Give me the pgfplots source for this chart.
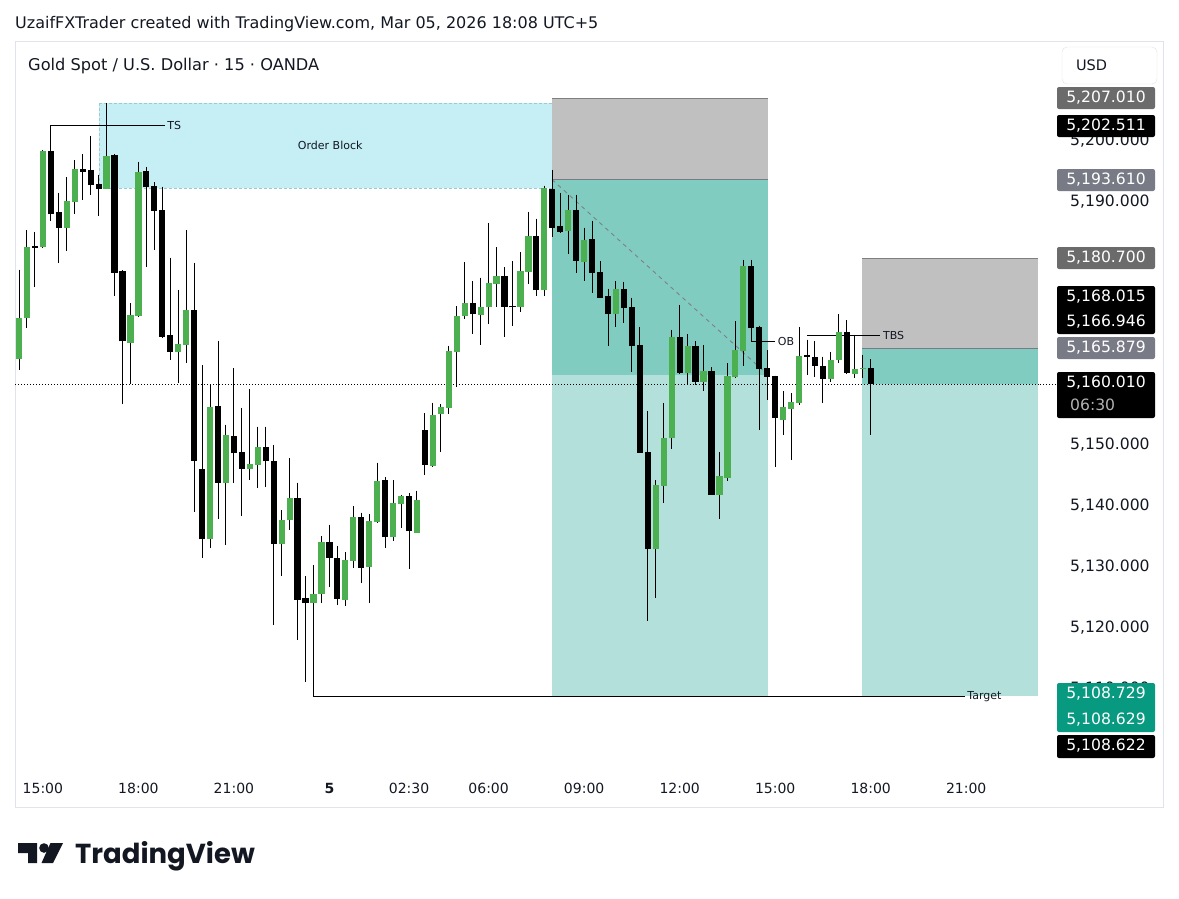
\documentclass[border=0pt]{standalone}
\usepackage{fontspec}
\setmainfont{DejaVu Sans}
\newfontfamily\poppins{Poppins}
\usepackage{pgfplots}
\usepackage{pgfplotstable}
\pgfplotsset{compat=1.18}
\definecolor{tvgreen}{HTML}{4CAF50}
\definecolor{obfill}{HTML}{C5EFF5}
\definecolor{obline}{HTML}{9CC9D2}
\definecolor{stopgrey}{HTML}{C0C0C0}
\definecolor{darkteal}{HTML}{81CCC1}
\definecolor{lightteal}{HTML}{B3E0DB}
\definecolor{tvteal}{HTML}{089981}
\definecolor{tvgray}{HTML}{787B86}
\definecolor{labgray}{HTML}{6B6B6B}
\definecolor{framec}{HTML}{E0E3EB}
\definecolor{txt}{HTML}{131722}

\pgfplotstableread{
i o h l c
0 5164.2 5178.8 5162.3 5170.8
1 5170.8 5185.3 5169.2 5182.5
3 5182.5 5198.4 5182.4 5198.3
6 5185.7 5194.0 5181.8 5190.1
7 5190.0 5196.8 5187.9 5195.3
11 5192.1 5206.2 5192.0 5197.5
14 5166.8 5173.3 5160.0 5171.4
15 5171.2 5196.5 5171.1 5194.9
20 5165.3 5175.5 5160.2 5166.6
21 5166.4 5185.3 5163.4 5172.2
24 5134.5 5159.9 5133.0 5156.3
26 5143.8 5153.3 5133.6 5151.6
29 5146.1 5159.2 5144.2 5146.9
30 5146.7 5153.0 5143.0 5149.7
33 5133.8 5139.3 5128.4 5137.7
34 5137.7 5147.8 5136.0 5141.3
37 5124.0 5130.2 5108.6 5125.5
38 5125.5 5135.0 5124.0 5134.0
41 5124.5 5132.4 5123.6 5131.1
42 5130.9 5139.9 5129.8 5138.1
44 5130.0 5138.6 5124.0 5137.5
45 5137.4 5147.1 5137.2 5144.1
47 5134.8 5144.2 5134.3 5140.4
48 5140.3 5141.8 5136.4 5141.6
50 5135.6 5142.5 5135.5 5141.0
52 5146.6 5156.9 5146.4 5154.9
53 5155.1 5156.7 5148.9 5156.3
54 5156.0 5166.3 5155.1 5165.4
55 5165.3 5172.8 5159.5 5171.2
56 5171.2 5180.1 5170.7 5173.4
58 5171.4 5177.5 5166.5 5172.7
59 5172.6 5186.5 5169.9 5176.6
60 5176.5 5182.5 5172.7 5177.8
63 5172.7 5181.7 5171.9 5178.6
64 5178.5 5188.3 5176.5 5184.3
66 5175.4 5192.6 5174.4 5192.2
69 5185.2 5191.1 5181.3 5188.6
71 5180.1 5185.7 5177.0 5183.7
75 5171.6 5176.9 5169.4 5175.6
80 5132.9 5144.2 5124.8 5143.4
81 5143.3 5156.9 5140.4 5151.1
82 5151.1 5168.9 5149.3 5167.7
84 5161.9 5168.2 5160.0 5166.3
86 5160.3 5166.4 5158.9 5162.2
88 5141.7 5148.8 5137.8 5144.9
89 5144.6 5163.4 5144.0 5161.3
90 5161.1 5170.3 5161.0 5165.6
91 5165.5 5180.4 5162.9 5179.4
96 5154.1 5158.8 5151.6 5156.2
97 5155.9 5158.5 5147.5 5157.0
98 5156.9 5169.4 5156.6 5164.6
102 5160.8 5165.3 5160.4 5164.0
103 5164.0 5171.5 5163.4 5168.5
105 5161.6 5168.1 5161.0 5162.5
106 5162.4 5164.8 5161.0 5162.7
}\greentab

\pgfplotstableread{
i o h l c
2 5182.7 5185.0 5176.0 5182.4
4 5198.3 5202.5 5186.8 5187.9
5 5188.2 5191.4 5179.9 5185.7
8 5195.3 5197.8 5190.3 5194.9
9 5195.2 5200.8 5191.0 5192.7
10 5192.9 5194.4 5187.7 5192.1
12 5197.6 5197.8 5174.5 5178.3
13 5178.6 5178.7 5156.7 5167.0
16 5195.0 5195.7 5179.3 5192.4
17 5192.6 5193.2 5182.0 5188.5
18 5188.6 5192.4 5167.5 5167.8
19 5168.1 5180.8 5164.0 5165.3
22 5172.2 5179.9 5139.0 5147.4
23 5146.1 5163.1 5131.5 5134.5
25 5156.4 5167.1 5137.8 5143.8
27 5151.5 5162.6 5143.8 5148.6
28 5148.8 5156.1 5138.3 5146.1
31 5149.7 5153.0 5143.1 5147.3
32 5147.4 5150.0 5120.4 5133.8
35 5141.3 5143.8 5118.0 5124.5
36 5124.8 5128.4 5111.1 5124.0
39 5134.0 5136.9 5126.6 5131.5
40 5131.5 5133.4 5123.7 5124.7
43 5138.1 5138.9 5127.3 5129.8
46 5144.2 5144.7 5133.1 5134.8
49 5141.6 5142.1 5129.7 5135.8
51 5152.5 5155.2 5145.0 5146.7
57 5173.4 5176.9 5168.2 5171.5
61 5177.8 5179.2 5167.8 5172.7
62 5172.8 5180.2 5169.6 5172.6
65 5184.3 5187.2 5174.5 5175.4
67 5192.1 5195.2 5184.1 5185.7
68 5185.9 5191.4 5184.8 5185.0
70 5188.6 5191.1 5178.3 5180.3
72 5183.8 5186.8 5174.9 5178.3
73 5178.4 5180.2 5174.1 5174.2
74 5174.4 5175.7 5166.3 5171.5
76 5175.6 5176.8 5170.1 5172.5
77 5172.7 5174.2 5162.0 5166.3
78 5166.4 5169.4 5148.6 5148.7
79 5148.8 5155.6 5121.0 5132.9
83 5167.7 5173.0 5161.6 5161.9
85 5166.3 5167.0 5159.9 5160.4
87 5162.2 5162.8 5141.7 5141.8
92 5179.4 5180.4 5167.0 5169.3
93 5169.4 5169.6 5152.5 5162.5
94 5162.7 5165.6 5157.4 5161.2
95 5161.3 5161.4 5146.4 5154.5
99 5164.7 5167.3 5161.5 5164.5
100 5164.5 5167.0 5161.2 5163.0
101 5163.0 5164.5 5156.9 5160.8
104 5168.5 5170.5 5161.7 5161.8
107 5162.6 5164.1 5151.6 5160.0
}\blacktab

\newcommand\pfont{\fontsize{15.6}{16}\selectfont}
\newcommand\afont{\fontsize{11}{11}\selectfont}
\newcommand\pbox[3]{\fill[#3, rounded corners=2pt] (1057,#1) rectangle (1155,#2);}
\newcommand\ptext[2]{\node[text=white, font=\pfont, inner sep=0pt] at (1106,#1) {#2};}

\begin{document}
\begin{tikzpicture}[x=1pt,y=-1pt]
\path[use as bounding box] (0,0) rectangle (1179,898);
\draw[framec] (15.5,41.5) rectangle (1163.5,807.5);
\begin{axis}[at={(15pt,-770pt)}, anchor=south west, scale only axis,
  width=1025pt, height=728pt,
  xmin=-0.5025, xmax=128.27, ymin=5096.59, ymax=5216.21,
  axis line style={draw=none}, major tick length=0pt,
  scaled y ticks=false,
  ytick={5110,5120,...,5200},
  yticklabel pos=right,
  yticklabel style={font=\pfont, text=txt, anchor=west, inner sep=0pt, xshift=30pt,
    /pgf/number format/fixed, /pgf/number format/fixed zerofill,
    /pgf/number format/precision=3, /pgf/number format/1000 sep={,},
    /pgf/number format/assume math mode=true},
  xtick={3,15,27,39,49,59,71,83,95,107,119},
  xticklabels={15:00,18:00,21:00,\textbf{5},02:30,06:00,09:00,12:00,15:00,18:00,21:00},
  xticklabel style={font=\fontsize{14}{14}\selectfont, text=txt, anchor=base, yshift=-23pt},
]
% order block
\fill[obfill] (axis cs:10.05,5206.2) rectangle (axis cs:68.0,5192.2);
\draw[obline, densely dashed, line width=0.6pt] (axis cs:10.05,5206.2) rectangle (axis cs:68.0,5192.2);
\node[font=\afont, text=txt] at (axis cs:39.1,5199.3) {Order Block};
% position 1
\fill[stopgrey] (axis cs:66.96,5207.01) rectangle (axis cs:94.1,5193.61);
\fill[darkteal] (axis cs:66.96,5193.61) rectangle (axis cs:94.1,5161.5);
\fill[lightteal] (axis cs:66.96,5161.5) rectangle (axis cs:94.1,5108.73);
\draw[gray, line width=0.8pt] (axis cs:66.96,5207.01) -- (axis cs:94.1,5207.01);
\draw[tvgray, line width=0.8pt] (axis cs:66.96,5193.61) -- (axis cs:94.1,5193.61);
\draw[gray, dash pattern=on 4pt off 4pt, line width=0.9pt] (axis cs:66.96,5193.61) -- (axis cs:94.1,5161.5);
% position 2
\fill[stopgrey] (axis cs:105.9,5180.7) rectangle (axis cs:128.0,5165.88);
\fill[darkteal] (axis cs:105.9,5165.88) rectangle (axis cs:128.0,5160.01);
\fill[lightteal] (axis cs:105.9,5160.01) rectangle (axis cs:128.0,5108.73);
\draw[gray, line width=0.8pt] (axis cs:105.9,5180.7) -- (axis cs:128.0,5180.7);
\draw[tvgray, line width=0.8pt] (axis cs:105.9,5165.88) -- (axis cs:128.0,5165.88);
% current price dotted
\draw[black, line width=1pt, dash pattern=on 1pt off 2pt] (axis cs:-0.5025,5160.01) -- (axis cs:128.27,5160.01);
% annotation lines
\draw[black, line width=1pt] (axis cs:4,5202.5) -- (axis cs:18.3,5202.5);
\node[anchor=west, font=\afont, text=txt, inner sep=1pt] at (axis cs:18.5,5202.5) {TS};
\draw[black, line width=1pt] (axis cs:92,5166.95) -- (axis cs:95,5166.95);
\node[anchor=west, font=\afont, text=txt, inner sep=1pt] at (axis cs:95.2,5166.95) {OB};
\draw[black, line width=1pt] (axis cs:99,5168.0) -- (axis cs:108.2,5168.0);
\node[anchor=west, font=\afont, text=txt, inner sep=1pt] at (axis cs:108.4,5168.0) {TBS};
\draw[black, line width=1pt] (axis cs:37,5108.63) -- (axis cs:118.8,5108.63);
\node[anchor=west, font=\afont, text=txt, inner sep=1pt] at (axis cs:119.0,5108.63) {Target};
% wicks
\addplot[only marks, mark=*, mark size=0pt, mark options={draw=none, fill=none}, forget plot,
  error bars/.cd, y dir=minus, y explicit, error mark=none,
  error bar style={line width=1pt, black}] table[x=i, y=h, y error minus expr=\thisrow{h}-\thisrow{l}] {\greentab};
\addplot[only marks, mark=*, mark size=0pt, mark options={draw=none, fill=none}, forget plot,
  error bars/.cd, y dir=minus, y explicit, error mark=none,
  error bar style={line width=1pt, black}] table[x=i, y=h, y error minus expr=\thisrow{h}-\thisrow{l}] {\blacktab};
% bodies
\addplot[only marks, mark=*, mark size=0pt, mark options={draw=none, fill=none}, forget plot,
  error bars/.cd, y dir=plus, y explicit, error mark=none,
  error bar style={line width=6.2pt, tvgreen}] table[x=i, y=o, y error plus expr=\thisrow{c}-\thisrow{o}] {\greentab};
\addplot[only marks, mark=*, mark size=0pt, mark options={draw=none, fill=none}, forget plot,
  error bars/.cd, y dir=plus, y explicit, error mark=none,
  error bar style={line width=6.2pt, black}] table[x=i, y=c, y error plus expr=\thisrow{o}-\thisrow{c}] {\blacktab};
\end{axis}
% dotted line continuation
\draw[black, line width=1pt, dash pattern=on 1pt off 2pt] (1040,384) -- (1057,384);
% right price labels
\pbox{87}{109}{labgray}\ptext{98}{5,207.010}
\pbox{115}{137}{black}\ptext{126}{5,202.511}
\pbox{169}{191}{tvgray}\ptext{180}{5,193.610}
\pbox{247}{269}{labgray}\ptext{258}{5,180.700}
\pbox{286}{334}{black}\ptext{297}{5,168.015}\ptext{322}{5,166.946}
\pbox{337}{359}{tvgray}\ptext{348}{5,165.879}
\pbox{372}{418}{black}\ptext{383}{5,160.010}
\node[text=white!70!black, font=\pfont, anchor=west, inner sep=0pt] at (1070,405) {06:30};
\pbox{683}{732}{tvteal}\ptext{694}{5,108.729}\ptext{720}{5,108.629}
\pbox{735}{758}{black}\ptext{746}{5,108.622}
% USD box
\draw[framec, rounded corners=5pt, fill=white] (1062,47) rectangle (1157,84);
\node[font=\fontsize{14.5}{15}\selectfont, text=txt] at (1091.5,65.5) {USD};
% header
\node[anchor=base west, inner sep=0pt, font=\fontsize{16}{16}\selectfont, text=txt] at (15,28) {UzaifFXTrader created with TradingView.com, Mar 05, 2026 18:08 UTC+5};
\node[anchor=base west, inner sep=0pt, font=\fontsize{16.2}{16}\selectfont, text=txt] at (28,70) {Gold Spot / U.S. Dollar · 15 · OANDA};
% logo
\fill[txt] (18,843) -- (37,843) -- (37,863) -- (28,863) -- (28,853) -- (18,853) -- cycle;
\fill[txt] (44,848) circle (4.8);
\fill[txt] (50.5,843) -- (63,843) -- (53,863) -- (41.5,863) -- cycle;
\node[anchor=base west, inner sep=0pt, font=\poppins\bfseries\fontsize{27.5}{28}\selectfont, text=txt] at (75,863) {TradingView};
\end{tikzpicture}
\end{document}
